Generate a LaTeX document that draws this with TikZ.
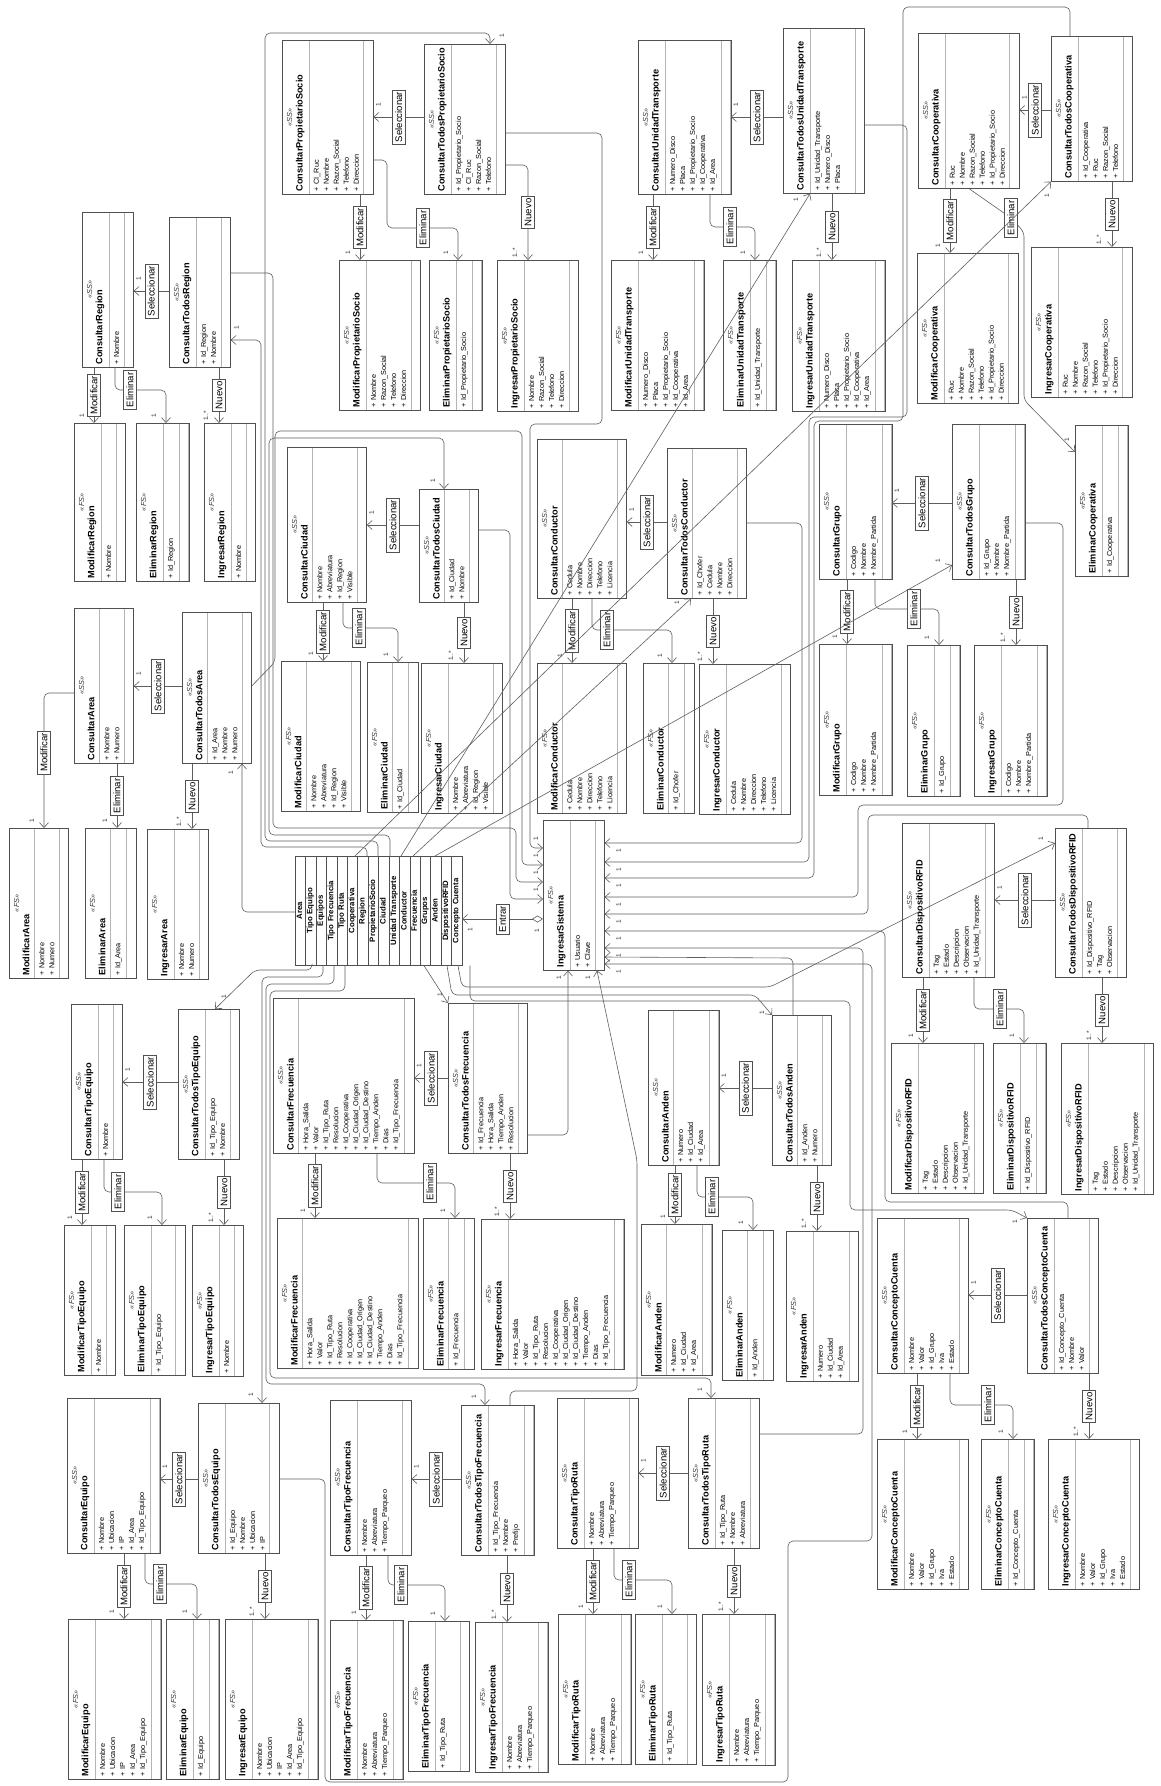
\documentclass[tikz,border=0pt]{standalone}
\usepackage{fontspec}
\setmainfont{Liberation Sans}
\usetikzlibrary{arrows.meta,positioning,shapes.multipart}
\definecolor{bdcol}{HTML}{505050}
\definecolor{spcol}{HTML}{B4B4B4}
\definecolor{lncol}{HTML}{5E5E5E}
\newcommand{\hd}[2]{\centering{\color{black!80}\itshape\textless\textless #1\textgreater\textgreater}\\[0.4pt]\mbox{\fontsize{9.2}{10}\selectfont\bfseries #2}}
\newcommand{\mi}[1]{\rule[-2.1pt]{0pt}{7.4pt}#1}
\tikzset{cls/.style={rectangle split,rectangle split parts=3,draw=spcol,line width=0.6pt,rotate=90,anchor=north east,inner xsep=3pt,inner ysep=4.4pt,font=\fontsize{7.3}{10}\selectfont,align=left,rectangle split empty part height=0pt},
menu/.style={rectangle split,rectangle split parts=16,draw=bdcol,line width=0.6pt,rotate=90,anchor=north east,inner xsep=3pt,inner ysep=1.05pt,font=\fontsize{7.8}{9}\selectfont\bfseries,align=center,text width=103pt},
edge/.style={draw=lncol,line width=0.6pt,rounded corners=5pt,-{Straight Barb[length=5pt,width=9pt]}},
lbl/.style={draw=bdcol,fill=white,sharp corners,rotate=90,font=\fontsize{9.6}{10}\selectfont,inner xsep=2pt,inner ysep=0.8pt,minimum height=13pt,line width=0.6pt},
mult/.style={rotate=90,font=\fontsize{6.5}{7}\selectfont,inner sep=0pt,text=black!80}}
\begin{document}
\begin{tikzpicture}[x=1pt,y=-1pt]
\fill[white] (0,0) rectangle (1160,1786);
% Region
\node[cls,text width=149pt] (cRegion) at (82,212) {\hd{SS}{ConsultarRegion}\nodepart{two}+ Nombre\nodepart{three}};
\node[cls,text width=144pt] (tRegion) at (169,217) {\hd{SS}{ConsultarTodosRegion}\nodepart{two}+ Id\_Region\\+ Nombre\nodepart{three}};
\node[cls,text width=152pt] (mRegion) at (74,423) {\hd{FS}{ModificarRegion}\nodepart{two}+ Nombre\nodepart{three}};
\node[cls,text width=152pt] (eRegion) at (136,423) {\hd{FS}{EliminarRegion}\nodepart{two}+ Id\_Region\nodepart{three}};
\node[cls,text width=152pt] (iRegion) at (204,423) {\hd{FS}{IngresarRegion}\nodepart{two}+ Nombre\nodepart{three}};
% Area
\node[cls,text width=149pt] (cArea) at (74,608) {\hd{SS}{ConsultarArea}\nodepart{two}+ Nombre\\+ Numero\nodepart{three}};
\node[cls,text width=145pt] (tArea) at (182,612) {\hd{SS}{ConsultarTodosArea}\nodepart{two}+ Id\_Area\\+ Nombre\\+ Numero\nodepart{three}};
\node[cls,text width=144pt] (mArea) at (9,828) {\hd{FS}{ModificarArea}\nodepart{two}+ Nombre\\+ Numero\nodepart{three}};
\node[cls,text width=144pt] (eArea) at (85,828) {\hd{FS}{EliminarArea}\nodepart{two}+ Id\_Area\nodepart{three}};
\node[cls,text width=144pt] (iArea) at (147,829) {\hd{FS}{IngresarArea}\nodepart{two}+ Nombre\\+ Numero\nodepart{three}};
% TipoEquipo
\node[cls,text width=149pt] (cTipoEquipo) at (71,1004) {\hd{SS}{ConsultarTipoEquipo}\nodepart{two}+ Nombre\nodepart{three}};
\node[cls,text width=144pt] (tTipoEquipo) at (178,1009) {\hd{SS}{ConsultarTodosTipoEquipo}\nodepart{two}+ Id\_Tipo\_Equipo\\+ Nombre\nodepart{three}};
\node[cls,text width=144pt] (mTipoEquipo) at (64,1225) {\hd{FS}{ModificarTipoEquipo}\nodepart{two}+ Nombre\nodepart{three}};
\node[cls,text width=144pt] (eTipoEquipo) at (124,1225) {\hd{FS}{EliminarTipoEquipo}\nodepart{two}+ Id\_Tipo\_Equipo\\\mbox{}\nodepart{three}};
\node[cls,text width=145pt] (iTipoEquipo) at (192,1225) {\hd{FS}{IngresarTipoEquipo}\nodepart{two}+ Nombre\nodepart{three}};
% Equipo
\node[cls,text width=149pt] (cEquipo) at (67,1398) {\hd{SS}{ConsultarEquipo}\nodepart{two}+ Nombre\\+ Ubicacion\\+ IP\\+ Id\_Area\\+ Id\_Tipo\_Equipo\nodepart{three}};
\node[cls,text width=144pt] (tEquipo) at (198,1403) {\hd{SS}{ConsultarTodosEquipo}\nodepart{two}+ Id\_Equipo\\+ Nombre\\+ Ubicacion\\+ IP\nodepart{three}};
\node[cls,text width=154pt] (mEquipo) at (68,1619) {\hd{FS}{ModificarEquipo}\nodepart{two}+ Nombre\\+ Ubicacion\\+ IP\\+ Id\_Area\\+ Id\_Tipo\_Equipo\nodepart{three}};
\node[cls,text width=154pt] (eEquipo) at (166,1619) {\hd{FS}{EliminarEquipo}\nodepart{two}+ Id\_Equipo\nodepart{three}};
\node[cls,text width=154pt] (iEquipo) at (225,1619) {\hd{FS}{IngresarEquipo}\nodepart{two}+ Nombre\\+ Ubicacion\\+ IP\\+ Id\_Area\\+ Id\_Tipo\_Equipo\nodepart{three}};
% TipoFrecuencia
\node[cls,text width=149pt] (cTipoFrecuencia) at (330,1400) {\hd{SS}{ConsultarTipoFrecuencia}\nodepart{two}+ Nombre\\+ Abreviatura\\+ Tiempo\_Parqueo\\\mbox{}\nodepart{three}};
\node[cls,text width=144pt] (tTipoFrecuencia) at (461,1405) {\hd{SS}{ConsultarTodosTipoFrecuencia}\nodepart{two}+ Id\_Tipo\_Frecuencia\\+ Nombre\\+ Prefijo\nodepart{three}};
\node[cls,text width=153pt] (mTipoFrecuencia) at (330,1620) {\hd{FS}{ModificarTipoFrecuencia}\nodepart{two}+ Nombre\\+ Abreviatura\\+ Tiempo\_Parqueo\nodepart{three}};
\node[cls,text width=144pt] (eTipoFrecuencia) at (408,1621) {\hd{FS}{EliminarTipoFrecuencia}\nodepart{two}+ Id\_Tipo\_Ruta\\\mbox{}\nodepart{three}};
\node[cls,text width=144pt] (iTipoFrecuencia) at (475,1622) {\hd{FS}{IngresarTipoFrecuencia}\nodepart{two}+ Nombre\\+ Abreviatura\\+ Tiempo\_Parqueo\nodepart{three}};
% TipoRuta
\node[cls,text width=144pt] (cTipoRuta) at (557,1398) {\hd{SS}{ConsultarTipoRuta}\nodepart{two}+ Nombre\\+ Abreviatura\\+ Tiempo\_Parqueo\\\mbox{}\nodepart{three}};
\node[cls,text width=144pt] (tTipoRuta) at (688,1398) {\hd{SS}{ConsultarTodosTipoRuta}\nodepart{two}+ Id\_Tipo\_Ruta\\+ Nombre\\+ Abreviatura\nodepart{three}};
\node[cls,text width=144pt] (mTipoRuta) at (558,1614) {\hd{FS}{ModificarTipoRuta}\nodepart{two}+ Nombre\\+ Abreviatura\\+ Tiempo\_Parqueo\nodepart{three}};
\node[cls,text width=144pt] (eTipoRuta) at (635,1614) {\hd{FS}{EliminarTipoRuta}\nodepart{two}+ Id\_Tipo\_Ruta\\\mbox{}\nodepart{three}};
\node[cls,text width=145pt] (iTipoRuta) at (702,1614) {\hd{FS}{IngresarTipoRuta}\nodepart{two}+ Nombre\\+ Abreviatura\\+ Tiempo\_Parqueo\nodepart{three}};
% Frecuencia
\node[cls,text width=149pt] (cFrecuencia) at (273,998) {\hd{SS}{ConsultarFrecuencia}\nodepart{two}+ Hora\_Salida\\+ Valor\\+ Id\_Tipo\_Ruta\\+ Resolucion\\+ Id\_Cooperativa\\+ Id\_Ciudad\_Origen\\+ Id\_Ciudad\_Destino\\+ Tiempo\_Anden\\+ Dias\\+ Id\_Tipo\_Frecuencia\nodepart{three}};
\node[cls,text width=144pt] (tFrecuencia) at (448,1003) {\hd{SS}{ConsultarTodosFrecuencia}\nodepart{two}+ Id\_Frecuencia\\+ Hora\_Salida\\+ Tiempo\_Anden\\+ Resolucion\nodepart{three}};
\node[cls,text width=144pt] (mFrecuencia) at (277,1218) {\hd{FS}{ModificarFrecuencia}\nodepart{two}+ Hora\_Salida\\+ Valor\\+ Id\_Tipo\_Ruta\\+ Resolucion\\+ Id\_Cooperativa\\+ Id\_Ciudad\_Origen\\+ Id\_Ciudad\_Destino\\+ Tiempo\_Anden\\+ Dias\\+ Id\_Tipo\_Frecuencia\nodepart{three}};
\node[cls,text width=145pt] (eFrecuencia) at (423,1218) {\hd{FS}{EliminarFrecuencia}\nodepart{two}+ Id\_Frecuencia\nodepart{three}};
\node[cls,text width=144pt] (iFrecuencia) at (481,1219) {\hd{FS}{IngresarFrecuencia}\nodepart{two}+ Hora\_Salida\\+ Valor\\+ Id\_Tipo\_Ruta\\+ Resolucion\\+ Id\_Cooperativa\\+ Id\_Ciudad\_Origen\\+ Id\_Ciudad\_Destino\\+ Tiempo\_Anden\\+ Dias\\+ Id\_Tipo\_Frecuencia\nodepart{three}};
% ConceptoCuenta
\node[cls,text width=149pt] (cConceptoCuenta) at (877,1218) {\hd{SS}{ConsultarConceptoCuenta}\nodepart{two}+ Nombre\\+ Valor\\+ Id\_Grupo\\+ Iva\\+ Estado\nodepart{three}};
\node[cls,text width=149pt] (tConceptoCuenta) at (1027,1218) {\hd{SS}{ConsultarTodosConceptoCuenta}\nodepart{two}+ Id\_Concepto\_Cuenta\\+ Nombre\\+ Valor\nodepart{three}};
\node[cls,text width=144pt] (mConceptoCuenta) at (877,1439) {\hd{FS}{ModificarConceptoCuenta}\nodepart{two}+ Nombre\\+ Valor\\+ Id\_Grupo\\+ Iva\\+ Estado\nodepart{three}};
\node[cls,text width=144pt] (eConceptoCuenta) at (981,1439) {\hd{FS}{EliminarConceptoCuenta}\nodepart{two}+ Id\_Concepto\_Cuenta\nodepart{three}};
\node[cls,text width=144pt] (iConceptoCuenta) at (1048,1439) {\hd{FS}{IngresarConceptoCuenta}\nodepart{two}+ Nombre\\+ Valor\\+ Id\_Grupo\\+ Iva\\+ Estado\nodepart{three}};
% Anden
\node[cls,text width=149pt] (cAnden) at (648,1010) {\hd{SS}{ConsultarAnden}\nodepart{two}+ Numero\\+ Id\_Ciudad\\+ Id\_Area\nodepart{three}};
\node[cls,text width=144pt] (tAnden) at (772,1015) {\hd{SS}{ConsultarTodosAnden}\nodepart{two}+ Id\_Anden\\+ Numero\nodepart{three}};
\node[cls,text width=145pt] (mAnden) at (641,1224) {\hd{FS}{ModificarAnden}\nodepart{two}+ Numero\\+ Id\_Ciudad\\+ Id\_Area\nodepart{three}};
\node[cls,text width=144pt] (eAnden) at (722,1230) {\hd{FS}{EliminarAnden}\nodepart{two}+ Id\_Anden\nodepart{three}};
\node[cls,text width=144pt] (iAnden) at (786,1231) {\hd{FS}{IngresarAnden}\nodepart{two}+ Numero\\+ Id\_Ciudad\\+ Id\_Area\nodepart{three}};
% DispositivoRFID
\node[cls,text width=148pt] (cRFID) at (902,823) {\hd{SS}{ConsultarDispositivoRFID}\nodepart{two}+ Tag\\+ Estado\\+ Descripcion\\+ Observacion\\+ Id\_Unidad\_Transporte\nodepart{three}};
\node[cls,text width=143pt] (tRFID) at (1055,828) {\hd{SS}{ConsultarTodosDispositivoRFID}\nodepart{two}+ Id\_Dispositivo\_RFID\\+ Tag\\+ Observacion\nodepart{three}};
\node[cls,text width=144pt] (mRFID) at (891,1043) {\hd{FS}{ModificarDispositivoRFID}\nodepart{two}+ Tag\\+ Estado\\+ Descripcion\\+ Observacion\\+ Id\_Unidad\_Transporte\nodepart{three}};
\node[cls,text width=144pt] (eRFID) at (993,1043) {\hd{FS}{EliminarDispositivoRFID}\nodepart{two}+ Id\_Dispositivo\_RFID\nodepart{three}};
\node[cls,text width=145pt] (iRFID) at (1061,1043) {\hd{FS}{IngresarDispositivoRFID}\nodepart{two}+ Tag\\+ Estado\\+ Descripcion\\+ Observacion\\+ Id\_Unidad\_Transporte\nodepart{three}};
% Grupo
\node[cls,text width=149pt] (cGrupo) at (819,424) {\hd{SS}{ConsultarGrupo}\nodepart{two}+ Codigo\\+ Nombre\\+ Nombre\_Partida\nodepart{three}};
\node[cls,text width=149pt] (tGrupo) at (952,424) {\hd{SS}{ConsultarTodosGrupo}\nodepart{two}+ Id\_Grupo\\+ Nombre\\+ Nombre\_Partida\nodepart{three}};
\node[cls,text width=145pt] (mGrupo) at (819,644) {\hd{FS}{ModificarGrupo}\nodepart{two}+ Codigo\\+ Nombre\\+ Nombre\_Partida\nodepart{three}};
\node[cls,text width=145pt] (eGrupo) at (907,645) {\hd{FS}{EliminarGrupo}\nodepart{two}+ Id\_Grupo\nodepart{three}};
\node[cls,text width=145pt] (iGrupo) at (974,645) {\hd{FS}{IngresarGrupo}\nodepart{two}+ Codigo\\+ Nombre\\+ Nombre\_Partida\nodepart{three}};
% Cooperativa
\node[cls,text width=149pt] (cCooperativa) at (918,33) {\hd{SS}{ConsultarCooperativa}\nodepart{two}+ Ruc\\+ Nombre\\+ Razon\_Social\\+ Telefono\\+ Id\_Propietario\_Socio\\+ Direccion\nodepart{three}};
\node[cls,text width=139pt] (tCooperativa) at (1051,36) {\hd{SS}{ConsultarTodosCooperativa}\nodepart{two}+ Id\_Cooperativa\\+ Ruc\\+ Razon\_Social\\+ Telefono\nodepart{three}};
\node[cls,text width=144pt] (mCooperativa) at (917,253) {\hd{FS}{ModificarCooperativa}\nodepart{two}+ Ruc\\+ Nombre\\+ Razon\_Social\\+ Telefono\\+ Id\_Propietario\_Socio\\+ Direccion\nodepart{three}};
\node[cls,text width=145pt] (eCooperativa) at (1075,425) {\hd{FS}{EliminarCooperativa}\nodepart{two}+ Id\_Cooperativa\nodepart{three}};
\node[cls,text width=144pt] (iCooperativa) at (1031,247) {\hd{FS}{IngresarCooperativa}\nodepart{two}+ Ruc\\+ Nombre\\+ Razon\_Social\\+ Telefono\\+ Id\_Propietario\_Socio\\+ Direccion\nodepart{three}};
% UnidadTransporte
\node[cls,text width=148pt] (cUnidadTransporte) at (638,40) {\hd{SS}{ConsultarUnidadTransporte}\nodepart{two}+ Numero\_Disco\\+ Placa\\+ Id\_Propietario\_Socio\\+ Id\_Cooperativa\\+ Id\_Area\nodepart{three}};
\node[cls,text width=159pt] (tUnidadTransporte) at (783,28) {\hd{SS}{ConsultarTodosUnidadTransporte}\nodepart{two}+ Id\_Unidad\_Transporte\\+ Numero\_Disco\\+ Placa\\\mbox{}\nodepart{three}};
\node[cls,text width=144pt] (mUnidadTransporte) at (611,260) {\hd{FS}{ModificarUnidadTransporte}\nodepart{two}+ Numero\_Disco\\+ Placa\\+ Id\_Propietario\_Socio\\+ Id\_Cooperativa\\+ Id\_Area\nodepart{three}};
\node[cls,text width=144pt] (eUnidadTransporte) at (723,260) {\hd{FS}{EliminarUnidadTransporte}\nodepart{two}+ Id\_Unidad\_Transporte\nodepart{three}};
\node[cls,text width=145pt] (iUnidadTransporte) at (792,260) {\hd{FS}{IngresarUnidadTransporte}\nodepart{two}+ Numero\_Disco\\+ Placa\\+ Id\_Propietario\_Socio\\+ Id\_Cooperativa\\+ Id\_Area\nodepart{three}};
% PropietarioSocio
\node[cls,text width=148pt] (cPropietarioSocio) at (282,40) {\hd{SS}{ConsultarPropietarioSocio}\nodepart{two}+ CI\_Ruc\\+ Nombre\\+ Razon\_Social\\+ Telefono\\+ Direccion\nodepart{three}};
\node[cls,text width=144pt] (tPropietarioSocio) at (424,44) {\hd{SS}{ConsultarTodosPropietarioSocio}\nodepart{two}+ Id\_Propietario\_Socio\\+ CI\_Ruc\\+ Razon\_Social\\+ Telefono\nodepart{three}};
\node[cls,text width=144pt] (mPropietarioSocio) at (339,260) {\hd{FS}{ModificarPropietarioSocio}\nodepart{two}+ Nombre\\+ Razon\_Social\\+ Telefono\\+ Direccion\nodepart{three}};
\node[cls,text width=144pt] (ePropietarioSocio) at (429,260) {\hd{FS}{EliminarPropietarioSocio}\nodepart{two}+ Id\_Propietario\_Socio\nodepart{three}};
\node[cls,text width=145pt] (iPropietarioSocio) at (497,260) {\hd{FS}{IngresarPropietarioSocio}\nodepart{two}+ Nombre\\+ Razon\_Social\\+ Telefono\\+ Direccion\nodepart{three}};
% Ciudad
\node[cls,text width=149pt] (cCiudad) at (287,447) {\hd{SS}{ConsultarCiudad}\nodepart{two}+ Nombre\\+ Abreviatura\\+ Id\_Region\\+ Visible\nodepart{three}};
\node[cls,text width=107pt] (tCiudad) at (419,489) {\hd{SS}{ConsultarTodosCiudad}\nodepart{two}+ Id\_Ciudad\\+ Nombre\nodepart{three}};
\node[cls,text width=144pt] (mCiudad) at (281,661) {\hd{FS}{ModificarCiudad}\nodepart{two}+ Nombre\\+ Abreviatura\\+ Id\_Region\\+ Visible\nodepart{three}};
\node[cls,text width=144pt] (eCiudad) at (367,662) {\hd{FS}{EliminarCiudad}\nodepart{two}+ Id\_Ciudad\nodepart{three}};
\node[cls,text width=144pt] (iCiudad) at (421,663) {\hd{FS}{IngresarCiudad}\nodepart{two}+ Nombre\\+ Abreviatura\\+ Id\_Region\\+ Visible\nodepart{three}};
% Conductor
\node[cls,text width=153pt] (cConductor) at (537,439) {\hd{SS}{ConsultarConductor}\nodepart{two}+ Cedula\\+ Nombre\\+ Direccion\\+ Telefono\\+ Licencia\nodepart{three}};
\node[cls,text width=144pt] (tConductor) at (667,448) {\hd{SS}{ConsultarTodosConductor}\nodepart{two}+ Id\_Chofer\\+ Cedula\\+ Nombre\\+ Direccion\nodepart{three}};
\node[cls,text width=144pt] (mConductor) at (537,663) {\hd{FS}{ModificarConductor}\nodepart{two}+ Cedula\\+ Nombre\\+ Direccion\\+ Telefono\\+ Licencia\nodepart{three}};
\node[cls,text width=144pt] (eConductor) at (643,663) {\hd{FS}{EliminarConductor}\nodepart{two}+ Id\_Chofer\nodepart{three}};
\node[cls,text width=144pt] (iConductor) at (699,664) {\hd{FS}{IngresarConductor}\nodepart{two}+ Cedula\\+ Nombre\\+ Direccion\\+ Telefono\\+ Licencia\nodepart{three}};
% sistema y menu
\node[cls,text width=144pt] (IS) at (543,820) {\hd{FS}{IngresarSistema}\nodepart{two}+ Usuario\\+ Clave\nodepart{three}};
\node[menu] (menu) at (295,856) {\mi{Area}\nodepart{two}\mi{Tipo Equipo}\nodepart{three}\mi{Equipos}\nodepart{four}\mi{Tipo Frecuencia}\nodepart{five}\mi{Tipo Ruta}\nodepart{six}\mi{Cooperativa}\nodepart{seven}\mi{Region}\nodepart{eight}\mi{PropietarioSocio}\nodepart{nine}\mi{Ciudad}\nodepart{ten}\mi{Unidad Transporte}\nodepart{eleven}\mi{Conductor}\nodepart{twelve}\mi{Frecuencia}\nodepart{thirteen}\mi{Grupos}\nodepart{fourteen}\mi{Anden}\nodepart{fifteen}\mi{DispositivoRFID}\nodepart{sixteen}\mi{Concepto Cuenta}};
\foreach \n in {cRegion,tRegion,mRegion,eRegion,iRegion,cArea,tArea,mArea,eArea,iArea,cTipoEquipo,tTipoEquipo,mTipoEquipo,eTipoEquipo,iTipoEquipo,cEquipo,tEquipo,mEquipo,eEquipo,iEquipo,cTipoFrecuencia,tTipoFrecuencia,mTipoFrecuencia,eTipoFrecuencia,iTipoFrecuencia,cTipoRuta,tTipoRuta,mTipoRuta,eTipoRuta,iTipoRuta,cFrecuencia,tFrecuencia,mFrecuencia,eFrecuencia,iFrecuencia,cConceptoCuenta,tConceptoCuenta,mConceptoCuenta,eConceptoCuenta,iConceptoCuenta,cAnden,tAnden,mAnden,eAnden,iAnden,cRFID,tRFID,mRFID,eRFID,iRFID,cGrupo,tGrupo,mGrupo,eGrupo,iGrupo,cCooperativa,tCooperativa,mCooperativa,eCooperativa,iCooperativa,cUnidadTransporte,tUnidadTransporte,mUnidadTransporte,eUnidadTransporte,iUnidadTransporte,cPropietarioSocio,tPropietarioSocio,mPropietarioSocio,ePropietarioSocio,iPropietarioSocio,cCiudad,tCiudad,mCiudad,eCiudad,iCiudad,cConductor,tConductor,mConductor,eConductor,iConductor,IS}
  \draw[bdcol,line width=0.7pt] (\n.north west) rectangle (\n.south east);
% conectores Region
\draw[edge] (tRegion.north |- 0,291) -- node[lbl]{Seleccionar} (cRegion.south |- 0,291) node[at end,xshift=5pt,yshift=12pt,mult]{1};
\draw[edge] (94,0 |- cRegion.west) -- node[lbl]{Modificar} (94,0 |- mRegion.east) node[at end,xshift=-12pt,yshift=7pt,mult]{1};
\draw[edge] (115,0 |- cRegion.west) |- (130,390) node[lbl]{Eliminar} -| (166,0 |- eRegion.east) node[at end,xshift=-12pt,yshift=7pt,mult]{1};
\draw[edge] (219,0 |- tRegion.west) -- node[lbl]{Nuevo} (219,0 |- iRegion.east) node[at end,xshift=-13pt,yshift=7pt,mult]{1..*};
% conectores Area
\draw[edge] (tArea.north |- 0,686) -- node[lbl]{Seleccionar} (cArea.south |- 0,686) node[at end,xshift=5pt,yshift=12pt,mult]{1};
\draw[edge] (cArea.north |- 0,693) -| node[lbl,pos=.72]{Modificar} (44,0 |- mArea.east) node[at end,xshift=-12pt,yshift=7pt,mult]{1};
\draw[edge] (117,0 |- cArea.west) -- node[lbl]{Eliminar} (117,0 |- eArea.east) node[at end,xshift=-12pt,yshift=7pt,mult]{1};
\draw[edge] (192,0 |- tArea.west) -- node[lbl]{Nuevo} (192,0 |- iArea.east) node[at end,xshift=-13pt,yshift=7pt,mult]{1..*};
% conectores TipoEquipo
\draw[edge] (tTipoEquipo.north |- 0,1082) -- node[lbl]{Seleccionar} (cTipoEquipo.south |- 0,1082) node[at end,xshift=5pt,yshift=12pt,mult]{1};
\draw[edge] (82,0 |- cTipoEquipo.west) -- node[lbl]{Modificar} (82,0 |- mTipoEquipo.east) node[at end,xshift=-12pt,yshift=7pt,mult]{1};
\draw[edge] (104,0 |- cTipoEquipo.west) |- (118,1192) node[lbl]{Eliminar} -| (162,0 |- eTipoEquipo.east) node[at end,xshift=-12pt,yshift=7pt,mult]{1};
\draw[edge] (224,0 |- tTipoEquipo.west) -- node[lbl]{Nuevo} (224,0 |- iTipoEquipo.east) node[at end,xshift=-13pt,yshift=7pt,mult]{1..*};
% conectores Equipo
\draw[edge] (tEquipo.north |- 0,1479) -- node[lbl]{Seleccionar} (cEquipo.south |- 0,1479) node[at end,xshift=5pt,yshift=12pt,mult]{1};
\draw[edge] (124,0 |- cEquipo.west) -- node[lbl]{Modificar} (124,0 |- mEquipo.east) node[at end,xshift=-12pt,yshift=7pt,mult]{1};
\draw[edge] (145,0 |- cEquipo.west) |- (160,1584) node[lbl]{Eliminar} -| (197,0 |- eEquipo.east) node[at end,xshift=-12pt,yshift=7pt,mult]{1};
\draw[edge] (265,0 |- tEquipo.west) -- node[lbl]{Nuevo} (265,0 |- iEquipo.east) node[at end,xshift=-13pt,yshift=7pt,mult]{1..*};
% conectores TipoFrecuencia
\draw[edge] (tTipoFrecuencia.north |- 0,1479) -- node[lbl]{Seleccionar} (cTipoFrecuencia.south |- 0,1479) node[at end,xshift=5pt,yshift=12pt,mult]{1};
\draw[edge] (366,0 |- cTipoFrecuencia.west) -- node[lbl]{Modificar} (366,0 |- mTipoFrecuencia.east) node[at end,xshift=-12pt,yshift=7pt,mult]{1};
\draw[edge] (388,0 |- cTipoFrecuencia.west) |- (401,1585) node[lbl]{Eliminar} -| (445,0 |- eTipoFrecuencia.east) node[at end,xshift=-12pt,yshift=7pt,mult]{1};
\draw[edge] (507,0 |- tTipoFrecuencia.west) -- node[lbl]{Nuevo} (507,0 |- iTipoFrecuencia.east) node[at end,xshift=-13pt,yshift=7pt,mult]{1..*};
% conectores TipoRuta
\draw[edge] (tTipoRuta.north |- 0,1473) -- node[lbl]{Seleccionar} (cTipoRuta.south |- 0,1473) node[at end,xshift=5pt,yshift=12pt,mult]{1};
\draw[edge] (593,0 |- cTipoRuta.west) -- node[lbl]{Modificar} (593,0 |- mTipoRuta.east) node[at end,xshift=-12pt,yshift=7pt,mult]{1};
\draw[edge] (614,0 |- cTipoRuta.west) |- (629,1580) node[lbl]{Eliminar} -| (672,0 |- eTipoRuta.east) node[at end,xshift=-12pt,yshift=7pt,mult]{1};
\draw[edge] (734,0 |- tTipoRuta.west) -- node[lbl]{Nuevo} (734,0 |- iTipoRuta.east) node[at end,xshift=-13pt,yshift=7pt,mult]{1..*};
% conectores Frecuencia
\draw[edge] (tFrecuencia.north |- 0,1078) -- node[lbl]{Seleccionar} (cFrecuencia.south |- 0,1078) node[at end,xshift=5pt,yshift=12pt,mult]{1};
\draw[edge] (315,0 |- cFrecuencia.west) -- node[lbl]{Modificar} (315,0 |- mFrecuencia.east) node[at end,xshift=-12pt,yshift=7pt,mult]{1};
\draw[edge] (377,0 |- cFrecuencia.west) |- (430,1183) node[lbl]{Eliminar} -| (455,0 |- eFrecuencia.east) node[at end,xshift=-12pt,yshift=7pt,mult]{1};
\draw[edge] (510,0 |- tFrecuencia.west) -- node[lbl]{Nuevo} (510,0 |- iFrecuencia.east) node[at end,xshift=-13pt,yshift=7pt,mult]{1..*};
% conectores ConceptoCuenta
\draw[edge] (tConceptoCuenta.north |- 0,1295) -- node[lbl]{Seleccionar} (cConceptoCuenta.south |- 0,1295) node[at end,xshift=5pt,yshift=12pt,mult]{1};
\draw[edge] (917,0 |- cConceptoCuenta.west) -- node[lbl]{Modificar} (917,0 |- mConceptoCuenta.east) node[at end,xshift=-12pt,yshift=7pt,mult]{1};
\draw[edge] (950,0 |- cConceptoCuenta.west) |- (988,1405) node[lbl]{Eliminar} -| (1013,0 |- eConceptoCuenta.east) node[at end,xshift=-12pt,yshift=7pt,mult]{1};
\draw[edge] (1089,0 |- tConceptoCuenta.west) -- node[lbl]{Nuevo} (1089,0 |- iConceptoCuenta.east) node[at end,xshift=-13pt,yshift=7pt,mult]{1..*};
% conectores Anden
\draw[edge] (tAnden.north |- 0,1088) -- node[lbl]{Seleccionar} (cAnden.south |- 0,1088) node[at end,xshift=5pt,yshift=12pt,mult]{1};
\draw[edge] (675,0 |- cAnden.west) -- node[lbl]{Modificar} (675,0 |- mAnden.east) node[at end,xshift=-12pt,yshift=7pt,mult]{1};
\draw[edge] (697,0 |- cAnden.west) |- (712,1197) node[lbl]{Eliminar} -| (753,0 |- eAnden.east) node[at end,xshift=-12pt,yshift=7pt,mult]{1};
\draw[edge] (817,0 |- tAnden.west) -- node[lbl]{Nuevo} (817,0 |- iAnden.east) node[at end,xshift=-13pt,yshift=7pt,mult]{1..*};
% conectores DispositivoRFID
\draw[edge] (tRFID.north |- 0,900) -- node[lbl]{Seleccionar} (cRFID.south |- 0,900) node[at end,xshift=5pt,yshift=12pt,mult]{1};
\draw[edge] (923,0 |- cRFID.west) -- node[lbl]{Modificar} (923,0 |- mRFID.east) node[at end,xshift=-12pt,yshift=7pt,mult]{1};
\draw[edge] (974,0 |- cRFID.west) |- (1000,1009) node[lbl]{Eliminar} -| (1024,0 |- eRFID.east) node[at end,xshift=-12pt,yshift=7pt,mult]{1};
\draw[edge] (1102,0 |- tRFID.west) -- node[lbl]{Nuevo} (1102,0 |- iRFID.east) node[at end,xshift=-13pt,yshift=7pt,mult]{1..*};
% conectores Grupo
\draw[edge] (tGrupo.north |- 0,503) -- node[lbl]{Seleccionar} (cGrupo.south |- 0,503) node[at end,xshift=5pt,yshift=12pt,mult]{1};
\draw[edge] (847,0 |- cGrupo.west) -- node[lbl]{Modificar} (847,0 |- mGrupo.east) node[at end,xshift=-12pt,yshift=7pt,mult]{1};
\draw[edge] (875,0 |- cGrupo.west) |- (914,609) node[lbl]{Eliminar} -| (939,0 |- eGrupo.east) node[at end,xshift=-12pt,yshift=7pt,mult]{1};
\draw[edge] (1016,0 |- tGrupo.west) -- node[lbl]{Nuevo} (1016,0 |- iGrupo.east) node[at end,xshift=-13pt,yshift=7pt,mult]{1..*};
% conectores Cooperativa
\draw[edge] (tCooperativa.north |- 0,110) -- node[lbl]{Seleccionar} (cCooperativa.south |- 0,110) node[at end,xshift=5pt,yshift=12pt,mult]{1};
\draw[edge] (950,0 |- cCooperativa.west) -- node[lbl]{Modificar} (950,0 |- mCooperativa.east) node[at end,xshift=-12pt,yshift=7pt,mult]{1};
\draw[edge] (969,0 |- cCooperativa.west) -- (1011,218) node[lbl]{Eliminar} -- (1024,232) -- (1024,400) -- (eCooperativa.north |- 0,452) node[at end,xshift=-8pt,yshift=12pt,mult]{1};
\draw[edge] (1112,0 |- tCooperativa.west) -- node[lbl]{Nuevo} (1112,0 |- iCooperativa.east) node[at end,xshift=-13pt,yshift=7pt,mult]{1..*};
% conectores UnidadTransporte
\draw[edge] (tUnidadTransporte.north |- 0,117) -- node[lbl]{Seleccionar} (cUnidadTransporte.south |- 0,117) node[at end,xshift=5pt,yshift=12pt,mult]{1};
\draw[edge] (653,0 |- cUnidadTransporte.west) -- node[lbl]{Modificar} (653,0 |- mUnidadTransporte.east) node[at end,xshift=-12pt,yshift=7pt,mult]{1};
\draw[edge] (710,0 |- cUnidadTransporte.west) |- (730,227) node[lbl]{Eliminar} -| (755,0 |- eUnidadTransporte.east) node[at end,xshift=-12pt,yshift=7pt,mult]{1};
\draw[edge] (832,0 |- tUnidadTransporte.west) -- node[lbl]{Nuevo} (832,0 |- iUnidadTransporte.east) node[at end,xshift=-13pt,yshift=7pt,mult]{1..*};
% conectores PropietarioSocio
\draw[edge] (tPropietarioSocio.north |- 0,117) -- node[lbl]{Seleccionar} (cPropietarioSocio.south |- 0,117) node[at end,xshift=5pt,yshift=12pt,mult]{1};
\draw[edge] (360,0 |- cPropietarioSocio.west) -- node[lbl]{Modificar} (360,0 |- mPropietarioSocio.east) node[at end,xshift=-12pt,yshift=7pt,mult]{1};
\draw[edge] (cPropietarioSocio.south |- 0,160) -| (387,228) -- (423,228) node[lbl]{Eliminar} -| (458,0 |- ePropietarioSocio.east) node[at end,xshift=-12pt,yshift=7pt,mult]{1};
\draw[edge] (tPropietarioSocio.south |- 0,165) -| node[lbl,pos=.75]{Nuevo} (528,0 |- iPropietarioSocio.east) node[at end,xshift=-13pt,yshift=7pt,mult]{1..*};
% conectores Ciudad
\draw[edge] (tCiudad.north |- 0,525) -- node[lbl]{Seleccionar} (cCiudad.south |- 0,525) node[at end,xshift=5pt,yshift=12pt,mult]{1};
\draw[edge] (323,0 |- cCiudad.west) -- node[lbl]{Modificar} (323,0 |- mCiudad.east) node[at end,xshift=-12pt,yshift=7pt,mult]{1};
\draw[edge] (343,0 |- cCiudad.west) |- (359,628) node[lbl]{Eliminar} -| (398,0 |- eCiudad.east) node[at end,xshift=-12pt,yshift=7pt,mult]{1};
\draw[edge] (464,0 |- tCiudad.west) -- node[lbl]{Nuevo} (464,0 |- iCiudad.east) node[at end,xshift=-13pt,yshift=7pt,mult]{1..*};
% conectores Conductor
\draw[edge] (tConductor.north |- 0,522) -- node[lbl]{Seleccionar} (cConductor.south |- 0,522) node[at end,xshift=5pt,yshift=12pt,mult]{1};
\draw[edge] (572,0 |- cConductor.west) -- node[lbl]{Modificar} (572,0 |- mConductor.east) node[at end,xshift=-12pt,yshift=7pt,mult]{1};
\draw[edge] (592,0 |- cConductor.west) |- (607,630) node[lbl]{Eliminar} -| (672,0 |- eConductor.east) node[at end,xshift=-12pt,yshift=7pt,mult]{1};
\draw[edge] (713,0 |- tConductor.west) -- node[lbl]{Nuevo} (713,0 |- iConductor.east) node[at end,xshift=-13pt,yshift=7pt,mult]{1..*};
% entrar
\draw[edge,{Diamond[open,length=11pt,width=7pt]}-{Straight Barb[length=5pt,width=9pt]}] (IS.north |- 0,919) -- node[lbl]{Entrar} (menu.south |- 0,919) node[at end,xshift=8pt,yshift=-11pt,mult]{1} node[at start,xshift=-6pt,yshift=-12pt,mult]{1};
% menu hacia ConsultarTodos
\draw[edge] (menu.north |- 0,912) -| (242,0 |- tArea.west) node[at end,xshift=-11pt,yshift=-9pt,mult]{1};
\draw[edge] (312,0 |- menu.west) -- (312,970) -- (255,970) -- (215,0 |- tTipoEquipo.east) node[at end,xshift=9pt,yshift=12pt,mult]{1};
\draw[edge] (323,0 |- menu.west) -- (323,977) -- (262,977) -- (262,0 |- tEquipo.east) node[at end,xshift=-11pt,yshift=8pt,mult]{1};
\draw[edge] (334,0 |- menu.west) -- (334,984) -- (266,984) -- (266,1384) -- (485,1384) -- (485,0 |- tTipoFrecuencia.east) node[at end,xshift=-11pt,yshift=8pt,mult]{1};
\draw[edge] (345,0 |- menu.west) -- (345,991) -- (270,991) -- (270,1378) -- (711,1378) -- (711,0 |- tTipoRuta.east) node[at end,xshift=-11pt,yshift=8pt,mult]{1};
\draw[edge] (355,0 |- menu.east) -- (tCooperativa.north west) node[at end,xshift=-4pt,yshift=-14pt,mult]{1};
\draw[edge] (367,0 |- menu.east) -- (367,847) -- (261,847) -- (261,340) -- (tRegion.south |- 0,340) node[at end,xshift=6pt,yshift=12pt,mult]{1};
\draw[edge] (378,0 |- menu.east) -- (378,841) -- (265,841) -- (265,33) -- (490,33) -- (490,0 |- tPropietarioSocio.east) node[at end,xshift=12pt,yshift=8pt,mult]{1};
\draw[edge] (390,0 |- menu.east) -- (390,835) -- (269,835) -- (269,438) -- (444,438) -- (444,0 |- tCiudad.east) node[at end,xshift=-11pt,yshift=8pt,mult]{1};
\draw[edge] (401,0 |- menu.east) -- (810,0 |- tUnidadTransporte.west) node[at end,xshift=-14pt,yshift=-6pt,mult]{1};
\draw[edge] (413,0 |- menu.east) -- (691,0 |- tConductor.west) node[at end,xshift=-14pt,yshift=-4pt,mult]{1};
\draw[edge] (424,0 |- menu.west) -- (tFrecuencia.north east) node[at end,xshift=-8pt,yshift=8pt,mult]{1};
\draw[edge] (435,0 |- menu.east) -- (tGrupo.north |- 0,565) node[at end,xshift=-14pt,yshift=4pt,mult]{1};
\draw[edge] (447,0 |- menu.west) -- (452,995) -- (755,995) -- (tAnden.north east) node[at end,xshift=-10pt,yshift=2pt,mult]{1};
\draw[edge] (458,0 |- menu.west) -- (462,987) -- (770,987) -- (tRFID.north |- 0,843) node[at end,xshift=-14pt,yshift=4pt,mult]{1};
\draw[edge] (470,0 |- menu.west) -- (470,1001) -- (850,1001) -- (850,1210) -- (1012,1210) -- (tConceptoCuenta.north east) node[at end,xshift=-12pt,yshift=-4pt,mult]{1};
% ConsultarTodos hacia IngresarSistema
\draw[edge] (tConductor.south |- 0,523) -- (802,523) -- (802,843) -- (IS.south |- 0,843) node[at end,xshift=14pt,yshift=-8pt,mult]{1};
\draw[edge] (tUnidadTransporte.south |- 0,125) -- (907,125) -- (907,417) -- (809,417) -- (809,862) -- (IS.south |- 0,862) node[at end,xshift=14pt,yshift=-8pt,mult]{1};
\draw[edge] (1070,0 |- tCooperativa.east) -- (1070,7) -- (903,7) -- (903,421) -- (814,421) -- (814,878) -- (IS.south |- 0,878) node[at end,xshift=14pt,yshift=-8pt,mult]{1};
\draw[edge] (tGrupo.south |- 0,523) -- (1063,523) -- (1063,805) -- (858,805) -- (858,897) -- (IS.south |- 0,897) node[at end,xshift=14pt,yshift=-8pt,mult]{1};
\draw[edge] (1088,0 |- tRFID.east) -- (1088,815) -- (868,815) -- (868,914) -- (IS.south |- 0,914) node[at end,xshift=14pt,yshift=-8pt,mult]{1};
\draw[edge] (1068,0 |- tConceptoCuenta.east) -- (1068,1202) -- (885,1202) -- (885,931) -- (IS.south |- 0,931) node[at end,xshift=14pt,yshift=-8pt,mult]{1};
\draw[edge] (tTipoRuta.south |- 0,1434) -- (863,1434) -- (863,948) -- (IS.south |- 0,948) node[at end,xshift=14pt,yshift=-8pt,mult]{1};
\draw[edge] (tEquipo.south |- 0,1479) -- (325,1479) -- (325,1782) -- (788,1782) -- (788,1541) -- (872,1541) -- (872,964) -- (IS.south |- 0,964) node[at end,xshift=14pt,yshift=-8pt,mult]{1};
\draw[edge] (793,0 |- tAnden.east) -- (793,958) -- (IS.south |- 0,957);
\draw[edge] (tFrecuencia.south |- 0,1135) -- (568,1135) -- (568,0 |- IS.west) node[at end,xshift=-9pt,yshift=-7pt,mult]{1};
\draw[edge] (510,0 |- tTipoFrecuencia.east) -- (510,1391) -- (637,1391) -- (637,1160) -- (597,0 |- IS.west) node[at end,xshift=-9pt,yshift=-7pt,mult]{1};
\draw[edge] (tPropietarioSocio.south |- 0,133) -- (602,133) -- (602,424) -- (530,424) -- (530,848) -- (IS.north |- 0,848) node[at end,xshift=-7pt,yshift=9pt,mult]{1};
\draw[edge] (tArea.south |- 0,686) -- (275,662) -- (275,431) -- (522,431) -- (522,865) -- (IS.north |- 0,865) node[at end,xshift=-7pt,yshift=9pt,mult]{1};
\draw[edge] (tRegion.south |- 0,273) -- (273,273) -- (273,828) -- (516,828) -- (516,882) -- (IS.north |- 0,882) node[at end,xshift=-7pt,yshift=9pt,mult]{1};
\draw[edge] (tCiudad.south |- 0,530) -- (510,530) -- (510,899) -- (IS.north |- 0,899) node[at end,xshift=-7pt,yshift=9pt,mult]{1};
\end{tikzpicture}
\end{document}
